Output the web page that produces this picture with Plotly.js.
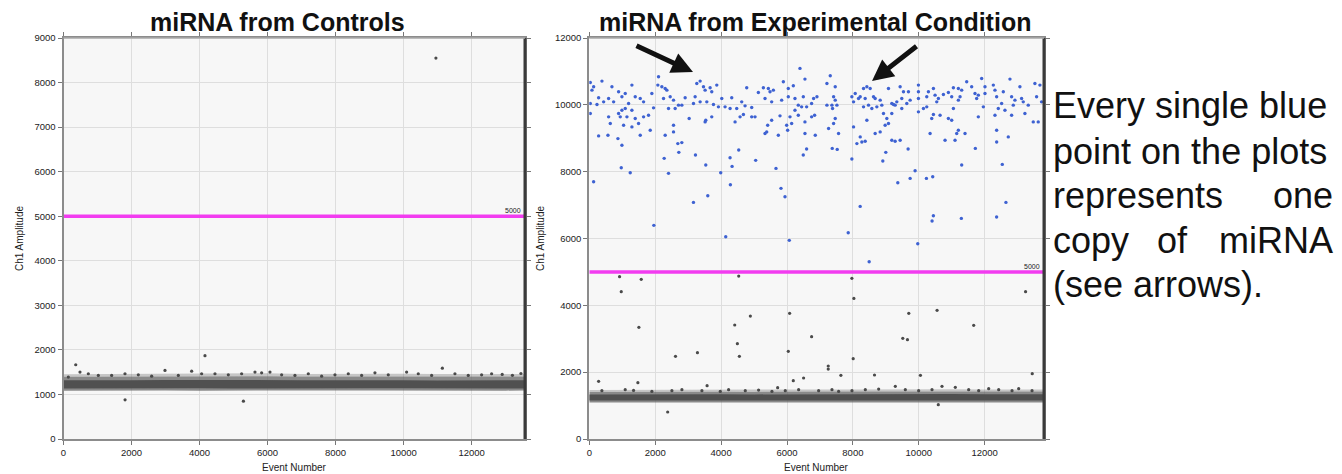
<!DOCTYPE html>
<html>
<head>
<meta charset="utf-8">
<script src="https://cdn.plot.ly/plotly-3.0.1.min.js"></script>
<style>
html,body{margin:0;padding:0;background:#ffffff;}
#chart{width:1342px;height:474px;}
</style>
</head>
<body>
<div id="chart"></div>
<script>
// ---------------- DATA ----------------
const xTicks = [0, 2000, 4000, 6000, 8000, 10000, 12000];
const ctrlYTicks = [0, 1000, 2000, 3000, 4000, 5000, 6000, 7000, 8000, 9000];
const expYTicks = [0, 2000, 4000, 6000, 8000, 10000, 12000];
const threshold = 5000;
const ctrlEventMax = 13570;
const expEventMax = 13800;

// Controls: dense negative-droplet band (envelope)
const ctrlBandEvent = [0, 1000, 2000, 3000, 4000, 5000, 6000, 7000, 8000, 9000, 10000, 11000, 12000, 13000, 13570];
const ctrlFringeHigh = [1455, 1460, 1465, 1460, 1470, 1465, 1475, 1460, 1465, 1470, 1465, 1460, 1460, 1465, 1460];
const ctrlBandLow   = [1085, 1090, 1085, 1090, 1085, 1090, 1090, 1085, 1090, 1090, 1085, 1090, 1090, 1085, 1090];
const ctrlBandHigh  = [1395, 1400, 1405, 1400, 1400, 1405, 1410, 1400, 1400, 1405, 1400, 1400, 1395, 1400, 1400];
const ctrlCoreLow   = [1135, 1140, 1135, 1140, 1140, 1135, 1140, 1140, 1135, 1140, 1140, 1135, 1140, 1140, 1135];
const ctrlCoreHigh  = [1320, 1315, 1320, 1325, 1320, 1320, 1325, 1320, 1320, 1325, 1320, 1315, 1320, 1320, 1320];
// Controls: individual visible droplets (outliers + band fringe)
const ctrlDroplets = [
  [10950, 8550], [4160, 1870], [360, 1666], [11140, 1590], [1810, 880], [5290, 848],
  [142, 1389], [485, 1501], [730, 1464], [1024, 1426], [1416, 1426], [1808, 1464], [2200, 1441],
  [2592, 1411], [2984, 1538], [3376, 1426], [3768, 1523], [4062, 1464], [4454, 1464], [4846, 1441],
  [5238, 1464], [5630, 1501], [5826, 1486], [6071, 1501], [6414, 1441], [6806, 1426], [7198, 1464],
  [7590, 1411], [7982, 1441], [8374, 1464], [8766, 1426], [9158, 1486], [9550, 1441], [10089, 1501],
  [10432, 1464], [10824, 1426], [11510, 1464], [11902, 1426], [12294, 1441], [12588, 1464],
  [12900, 1450], [13200, 1430], [13450, 1470]
];

// Experimental: dense negative-droplet band
const expBandEvent = [0, 1000, 2000, 3000, 4000, 5000, 6000, 7000, 8000, 9000, 10000, 11000, 12000, 13000, 13800];
const expFringeHigh = [1465, 1470, 1470, 1475, 1470, 1470, 1480, 1485, 1480, 1490, 1485, 1490, 1485, 1490, 1480];
const expBandLow   = [1095, 1090, 1095, 1090, 1095, 1090, 1095, 1090, 1095, 1090, 1095, 1090, 1095, 1090, 1095];
const expBandHigh  = [1410, 1415, 1410, 1420, 1415, 1410, 1420, 1425, 1420, 1425, 1420, 1425, 1420, 1425, 1420];
const expCoreLow   = [1150, 1150, 1155, 1150, 1150, 1155, 1150, 1150, 1155, 1150, 1150, 1155, 1150, 1150, 1155];
const expCoreHigh  = [1335, 1340, 1335, 1340, 1340, 1335, 1340, 1345, 1340, 1345, 1340, 1345, 1340, 1345, 1340];

// Experimental: positive droplets (blue, above threshold)
const expPositive = [
  [30,10670],[132,10540],[384,10710],[81,10440],[283,10210],[30,10040],[233,10010],[435,10090],[30,9740],
  [687,10540],[586,10190],[738,10090],[889,10390],[990,10240],[1091,10340],[1293,10590],[1394,10240],
  [1546,10190],[1647,10090],[1192,10040],[990,9840],[889,9740],[1091,9890],[1293,9840],[586,9640],
  [637,9440],[940,9640],[1142,9640],[1394,9590],[1647,9640],[1798,9690],[1041,9390],[1293,9340],
  [1495,9440],[283,9070],[566,9090],[869,8990],[990,8790],[1546,9090],[1849,9240],[1950,9910],
  [1899,10340],[2101,10840],[2081,10590],[2202,10540],[2303,10490],[2253,10190],[2455,10240],
  [2556,10140],[2404,9890],[2606,9890],[2354,10440],[2707,9990],[2909,10210],[2808,9990],[3263,10640],
  [3364,10710],[3465,10540],[3515,10440],[3667,10510],[3717,10390],[3869,10590],[3212,10240],
  [3364,10090],[3566,10090],[3162,10040],[3768,10010],[4020,10190],[4323,10210],[3919,9940],
  [4121,9940],[4273,9890],[4475,9890],[4626,10090],[4778,10510],[4727,9970],[4929,9920],[5030,9640],
  [5131,10370],[5283,10510],[5434,10490],[5485,10390],[5586,10440],[5333,10190],[5535,10090],
  [5838,10140],[5889,10690],[6040,10490],[6192,10570],[6040,10240],[6242,10190],[6343,9990],
  [6495,10240],[6444,9940],[6596,9940],[6747,10040],[6394,11090],[6545,10770],[6091,9640],[6242,9840],
  [6343,9690],[5788,9670],[5990,9390],[6141,9440],[6545,9490],[6747,9640],[5414,9390],[5384,9190],
  [5333,9140],[4576,9640],[4677,9710],[4424,9490],[3717,9640],[3535,9540],[3515,9490],[3030,9590],
  [2556,9390],[2556,9190],[2303,9090],[2687,8840],[2808,8870],[5737,9090],[5535,9540],[4929,9640],
  [6020,9240],[6545,9140],
  [6808,10190],[6909,10240],[6838,9690],[6858,9090],[7212,10640],[7313,10870],[7464,10540],[7414,10240],
  [7464,10140],[7212,9990],[7363,9990],[7383,9890],[7515,9990],[7464,9590],[7414,9440],[7565,9140],
  [7262,9290],[7969,10240],[8070,10340],[8020,10090],[8171,10190],[8222,10240],[8323,10490],[8424,10540],
  [8525,10490],[8373,10190],[8474,9990],[8626,10240],[8676,10190],[8323,9940],[8727,9940],[8575,9890],
  [8828,10140],[8878,9990],[9080,10490],[8929,9740],[9030,9590],[9181,10040],[9232,10010],[9282,9990],
  [9333,10090],[9434,10540],[9484,10190],[9535,10390],[9636,10040],[9686,10390],[9737,10140],[9484,9890],
  [9181,9740],[9080,9440],[8979,9390],[8020,9340],[8424,9540],[8676,9140],[8828,9190],[8222,9040],
  [8121,8840],[8272,8890],[8373,8910],[9181,8940],[9282,8910],[9434,8940],[9989,10590],[9989,10390],
  [9989,10190],[9989,9790],[10141,9890],[10242,9940],[10242,10240],[10292,10390],[10444,10490],
  [10494,10290],[10595,10190],[10545,10090],[10747,10310],[10898,10370],[10999,10240],[11050,10510],
  [11201,10490],[11302,10440],[11252,10240],[11201,10140],[11050,9890],[10646,9690],[10444,9710],
  [10393,9590],[10898,9590],[10999,9540],[10343,9140],[10797,8940],[11151,9140],[11201,9240],[11403,9140],
  [11100,8940],[11454,10690],[11605,10540],[11706,10340],[11757,10190],[11807,10290],[11908,10790],
  [12009,10340],[11959,9940],[12009,10540],[11807,9640],[12262,10590],[12312,10440],[12363,10240],
  [12514,10040],[12565,10390],[12413,9890],[12615,9840],[12817,10240],[12767,10770],[12868,9990],
  [12918,10140],[13069,10540],[13120,10190],[13171,10090],[13322,9990],[13221,9740],[13474,9490],
  [13625,9490],[12817,9690],[12312,9690],[12363,9240],[12716,9040],[12363,8890],[13524,10640],
  [13676,10590],[13575,10240],[13726,10090],
  [131,7700],[970,8118],[1242,7969],[2273,8398],[2404,7949],[2717,8578],[3222,8497],[3535,8198],
  [3596,7281],[3161,7081],[3989,7969],[4272,8418],[4333,8158],[4282,7610],[4535,8647],[5050,8338],
  [5666,8098],[5818,7500],[5939,7251],[6494,8497],[6595,8677],[7373,8697],[7524,8667],[7969,8378],
  [8221,6961],[8908,8318],[8999,8578],[9676,8677],[9363,7670],[9737,7799],[9888,8028],[10231,7799],
  [10423,7849],[10443,6682],[10403,6523],[11302,8198],[11291,6602],[11716,8697],[12362,6642],
  [12534,8218],[12645,7081],[1959,6393],[4141,6054],[6070,5944],[7858,6174],[9969,5844],[8494,5306]
];

// Experimental: negative droplets visible outside the band (grey)
const expNegative = [
  [919,4857],[970,4408],[1576,4777],[4535,4877],[7969,4807],[8030,4208],[13241,4408],[1505,3341],
  [4414,3411],[4888,3680],[6080,3760],[6747,3062],[4494,2853],[4555,2473],[2616,2473],[3282,2583],
  [6040,2623],[8009,2404],[9696,3760],[10555,3850],[11666,3401],[9514,3012],[9656,2972],[7252,2184],
  [7252,2094],[7636,1905],[8656,1915],[10050,1905],[13443,1955],[283,1725],[1474,1686],[3575,1596],
  [5717,1536],[6191,1745],[6504,1826],[2379,808],[10592,1027],
  [382,1445],[1090,1475],[1343,1455],[1900,1425],[2507,1445],[2811,1475],[3418,1445],[3975,1425],
  [4228,1475],[4734,1445],[5138,1465],[5543,1425],[5948,1445],[6353,1475],[6960,1445],[7365,1475],
  [7567,1425],[7972,1445],[8377,1475],[8782,1495],[9288,1575],[9591,1475],[9996,1445],[10401,1475],
  [10704,1575],[11109,1545],[11514,1475],[11818,1445],[12121,1505],[12425,1475],[12830,1445],
  [13032,1505],[13437,1445]
];

// ---------------- STYLE / LAYOUT ----------------
const FONT = 'Liberation Sans, Arial, sans-serif';
const W = 1342, H = 474;
const px = v => v / W;
const py = v => 1 - v / H;

const BAND_FRINGE = 'rgba(105,105,105,0.35)';
const BAND_OUT = 'rgba(95,95,95,0.72)';
const BAND_CORE = '#505050';
const GREY_DOT = '#4a4a4a';
const BLUE_DOT = '#3e62d2';
const MAGENTA = '#f23cf0';

function fillPair(ev, lo, hi, color, xa, ya) {
  return [
    {x: ev, y: lo, xaxis: xa, yaxis: ya, type: 'scatter', mode: 'lines', line: {width: 0, color: color}, hoverinfo: 'skip', showlegend: false},
    {x: ev, y: hi, xaxis: xa, yaxis: ya, type: 'scatter', mode: 'lines', fill: 'tonexty', fillcolor: color, line: {width: 0, color: color}, hoverinfo: 'skip', showlegend: false}
  ];
}
function bandTraces(ev, fr, lo, hi, clo, chi, xa, ya) {
  return [
    ...fillPair(ev, hi, fr, BAND_FRINGE, xa, ya),
    ...fillPair(ev, lo, hi, BAND_OUT, xa, ya),
    ...fillPair(ev, clo, chi, BAND_CORE, xa, ya)
  ];
}

const traces = [
  ...bandTraces(ctrlBandEvent, ctrlFringeHigh, ctrlBandLow, ctrlBandHigh, ctrlCoreLow, ctrlCoreHigh, 'x', 'y'),
  {x: ctrlDroplets.map(d => d[0]), y: ctrlDroplets.map(d => d[1]), xaxis: 'x', yaxis: 'y', type: 'scatter', mode: 'markers',
   marker: {size: 3.2, color: GREY_DOT}, showlegend: false},
  {x: [0, ctrlEventMax], y: [threshold, threshold], xaxis: 'x', yaxis: 'y', type: 'scatter', mode: 'lines',
   line: {color: MAGENTA, width: 3.5}, showlegend: false},

  ...bandTraces(expBandEvent, expFringeHigh, expBandLow, expBandHigh, expCoreLow, expCoreHigh, 'x2', 'y2'),
  {x: expNegative.map(d => d[0]), y: expNegative.map(d => d[1]), xaxis: 'x2', yaxis: 'y2', type: 'scatter', mode: 'markers',
   marker: {size: 3.2, color: GREY_DOT}, showlegend: false},
  {x: [0, expEventMax], y: [threshold, threshold], xaxis: 'x2', yaxis: 'y2', type: 'scatter', mode: 'lines',
   line: {color: MAGENTA, width: 3.5}, showlegend: false},
  {x: expPositive.map(d => d[0]), y: expPositive.map(d => d[1]), xaxis: 'x2', yaxis: 'y2', type: 'scatter', mode: 'markers',
   marker: {size: 3.4, color: BLUE_DOT}, showlegend: false}
];

const tickFont = {family: FONT, size: 9.5, color: '#222'};
function xAxis(domain, max, anchor) {
  return {domain: domain, range: [0, max], tickvals: xTicks, ticktext: xTicks.map(String), anchor: anchor,
    showgrid: true, gridcolor: '#dedede', gridwidth: 1, zeroline: false,
    showline: true, linecolor: '#8c8c8c', linewidth: 2, mirror: 'ticks',
    ticks: 'outside', ticklen: 4, tickcolor: '#777', tickfont: tickFont, fixedrange: true};
}
function yAxis(domain, max, ticks, anchor) {
  return {domain: domain, range: [0, max], tickvals: ticks, ticktext: ticks.map(String), anchor: anchor,
    showgrid: true, gridcolor: '#dedede', gridwidth: 1, zeroline: false,
    showline: true, linecolor: '#8c8c8c', linewidth: 2, mirror: 'ticks',
    ticks: 'outside', ticklen: 4, tickcolor: '#777', tickfont: tickFont, fixedrange: true};
}

const yDom = [py(439), py(38)];
const layout = {
  width: W, height: H,
  margin: {l: 0, r: 0, t: 0, b: 0, pad: 0},
  paper_bgcolor: '#ffffff',
  plot_bgcolor: '#f7f7f7',
  showlegend: false,
  font: {family: FONT, color: '#111'},
  xaxis: xAxis([px(63.5), px(525)], ctrlEventMax, 'y'),
  yaxis: yAxis(yDom, 9000, ctrlYTicks, 'x'),
  xaxis2: xAxis([px(589.3), px(1044)], expEventMax, 'y2'),
  yaxis2: yAxis(yDom, 12000, expYTicks, 'x2'),
  shapes: [
    {type: 'line', xref: 'x domain', yref: 'y domain', x0: 1, x1: 1, y0: 0, y1: 1, line: {color: '#3a3a3a', width: 3}, layer: 'above'},
    {type: 'line', xref: 'x2 domain', yref: 'y2 domain', x0: 1, x1: 1, y0: 0, y1: 1, line: {color: '#3a3a3a', width: 3}, layer: 'above'},
    {type: 'line', xref: 'x domain', yref: 'y domain', x0: 0, x1: 1, y0: 1, y1: 1, line: {color: '#a8a8a8', width: 1.5}, layer: 'above'},
    {type: 'line', xref: 'x2 domain', yref: 'y2 domain', x0: 0, x1: 1, y0: 1, y1: 1, line: {color: '#a8a8a8', width: 1.5}, layer: 'above'}
  ],
  annotations: [
    // chart titles
    {xref: 'paper', yref: 'paper', x: px(277), y: py(22), xanchor: 'center', yanchor: 'middle', showarrow: false,
     text: '<b>miRNA from Controls</b>', font: {family: FONT, size: 25, color: '#111'}},
    {xref: 'paper', yref: 'paper', x: px(815), y: py(22), xanchor: 'center', yanchor: 'middle', showarrow: false,
     text: '<b>miRNA from Experimental Condition</b>', font: {family: FONT, size: 25, color: '#111'}},
    // axis titles
    {xref: 'paper', yref: 'paper', x: px(20), y: py(239), xanchor: 'center', yanchor: 'middle', showarrow: false, textangle: -90,
     text: 'Ch1 Amplitude', font: {family: FONT, size: 10, color: '#222'}},
    {xref: 'paper', yref: 'paper', x: px(541), y: py(239), xanchor: 'center', yanchor: 'middle', showarrow: false, textangle: -90,
     text: 'Ch1 Amplitude', font: {family: FONT, size: 10, color: '#222'}},
    {xref: 'paper', yref: 'paper', x: px(294.5), y: py(467), xanchor: 'center', yanchor: 'middle', showarrow: false,
     text: 'Event Number', font: {family: FONT, size: 10, color: '#222'}},
    {xref: 'paper', yref: 'paper', x: px(816), y: py(467), xanchor: 'center', yanchor: 'middle', showarrow: false,
     text: 'Event Number', font: {family: FONT, size: 10, color: '#222'}},
    // threshold labels
    {xref: 'x', yref: 'y', x: ctrlEventMax, y: threshold, xanchor: 'right', yanchor: 'bottom', showarrow: false,
     text: String(threshold), font: {family: FONT, size: 7, color: '#222'}, xshift: -2, yshift: 0},
    {xref: 'x2', yref: 'y2', x: expEventMax, y: threshold, xanchor: 'right', yanchor: 'bottom', showarrow: false,
     text: String(threshold), font: {family: FONT, size: 7, color: '#222'}, xshift: -2, yshift: 0},
    // arrows
    {xref: 'paper', yref: 'paper', x: px(693), y: py(72), ax: -58, ay: -27, axref: 'pixel', ayref: 'pixel',
     showarrow: true, arrowhead: 2, arrowsize: 0.85, arrowwidth: 5, arrowcolor: '#111', text: '', standoff: 0},
    {xref: 'paper', yref: 'paper', x: px(872), y: py(81), ax: 46, ay: -36, axref: 'pixel', ayref: 'pixel',
     showarrow: true, arrowhead: 2, arrowsize: 0.85, arrowwidth: 5, arrowcolor: '#111', text: '', standoff: 0},
    // explanatory text (justified)
    {xref: 'paper', yref: 'paper', x: px(1051), y: py(106), xanchor: 'left', yanchor: 'middle', showarrow: false,
     text: 'Every single blue', font: {family: FONT, size: 36, color: '#111'}},
    {xref: 'paper', yref: 'paper', x: px(1051), y: py(151), xanchor: 'left', yanchor: 'middle', showarrow: false,
     text: 'point on the plots', font: {family: FONT, size: 36, color: '#111'}},
    {xref: 'paper', yref: 'paper', x: px(1051), y: py(195), xanchor: 'left', yanchor: 'middle', showarrow: false,
     text: 'represents', font: {family: FONT, size: 36, color: '#111'}},
    {xref: 'paper', yref: 'paper', x: px(1335), y: py(195), xanchor: 'right', yanchor: 'middle', showarrow: false,
     text: 'one', font: {family: FONT, size: 36, color: '#111'}},
    {xref: 'paper', yref: 'paper', x: px(1051), y: py(240), xanchor: 'left', yanchor: 'middle', showarrow: false,
     text: 'copy', font: {family: FONT, size: 36, color: '#111'}},
    {xref: 'paper', yref: 'paper', x: px(1172.5), y: py(240), xanchor: 'center', yanchor: 'middle', showarrow: false,
     text: 'of', font: {family: FONT, size: 36, color: '#111'}},
    {xref: 'paper', yref: 'paper', x: px(1335), y: py(240), xanchor: 'right', yanchor: 'middle', showarrow: false,
     text: 'miRNA', font: {family: FONT, size: 36, color: '#111'}},
    {xref: 'paper', yref: 'paper', x: px(1051), y: py(284), xanchor: 'left', yanchor: 'middle', showarrow: false,
     text: '(see arrows).', font: {family: FONT, size: 36, color: '#111'}}
  ]
};

Plotly.newPlot('chart', traces, layout, {staticPlot: true, displayModeBar: false, responsive: false});
</script>
</body>
</html>
